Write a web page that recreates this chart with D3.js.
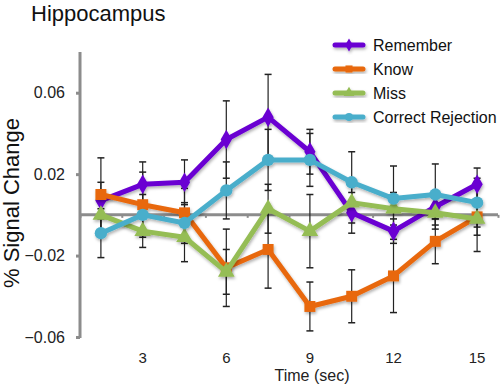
<!DOCTYPE html>
<html>
<head>
<meta charset="utf-8">
<script src="https://cdn.jsdelivr.net/npm/d3@7"></script>
<style>
  body { margin: 0; background: #fff; }
  svg { font-family: "Liberation Sans", Arial, sans-serif; }
</style>
</head>
<body>
<svg width="500" height="385"></svg>
<script>
// **** data ****
var times = [1.5, 3, 4.5, 6, 7.5, 9, 10.5, 12, 13.5, 15];
var xTicks = [3, 6, 9, 12, 15];
var yTicks = [-0.06, -0.02, 0.02, 0.06];

var remember = [0.007, 0.015, 0.016, 0.037, 0.048, 0.031, 0.001, -0.008, 0.004, 0.015];
var know = [0.010, 0.005, 0.001, -0.026, -0.017, -0.045, -0.040, -0.030, -0.013, -0.001];
var miss = [0.000, -0.008, -0.011, -0.028, 0.003, -0.008, 0.006, 0.003, 0.001, -0.002];
var correctRejection = [-0.009, 0.000, -0.004, 0.012, 0.027, 0.027, 0.016, 0.008, 0.010, 0.006];

var rememberErr = [0.009, 0.011, 0.011, 0.019, 0.021, 0.011, 0.010, 0.006, 0.006, 0.008];
var knowErr = [0.018, 0.016, 0.012, 0.019, 0.019, 0.012, 0.013, 0.018, 0.011, 0.017];
var missErr = [0.010, 0.008, 0.012, 0.011, 0.012, 0.018, 0.010, 0.008, 0.008, 0.008];
var crErr = [0.012, 0.010, 0.010, 0.014, 0.015, 0.013, 0.015, 0.016, 0.015, 0.012];

var seriesNames = ['Remember', 'Know', 'Miss', 'Correct Rejection'];
var seriesColors = ['#6a00d2', '#e8680c', '#95bd55', '#4aaecb'];
var seriesShapes = [d3.symbolDiamond, d3.symbolSquare, d3.symbolTriangle, d3.symbolCircle];

var series = [
    { name: seriesNames[0], values: remember, errs: rememberErr },
    { name: seriesNames[1], values: know, errs: knowErr },
    { name: seriesNames[2], values: miss, errs: missErr },
    { name: seriesNames[3], values: correctRejection, errs: crErr }
];

// **** scales ****
var xScale = d3.scaleLinear()
    .domain([0.75, 15.75])
    .range([80, 498]);
var yScale = d3.scaleLinear()
    .domain([-0.06, 0.08])
    .range([337, 52]);

var svg = d3.select('svg');

var defs = svg.append('defs');
var shadow = defs.append('filter').attr('id', 'shadow')
    .attr('x', '-20%').attr('y', '-20%').attr('width', '140%').attr('height', '140%');
shadow.append('feDropShadow')
    .attr('dx', 1).attr('dy', 2).attr('stdDeviation', 1.5)
    .attr('flood-color', '#000').attr('flood-opacity', 0.3);

// title
svg.append('text')
    .attr('x', 31).attr('y', 21)
    .style('font-size', '22px')
    .attr('fill', '#111')
    .text('Hippocampus');

// y axis
var yAxis = svg.append('g')
    .attr('transform', 'translate(80,0)')
    .call(d3.axisLeft(yScale).tickValues(yTicks).tickSize(4)
        .tickFormat(function(d) { return d3.format('.2f')(d); }));
yAxis.select('.domain').remove();
yAxis.append('line')
    .attr('x1', 0).attr('x2', 0)
    .attr('y1', yScale(0.08)).attr('y2', yScale(-0.06) + 1)
    .attr('stroke', '#8c8c8c').attr('stroke-width', 3);
yAxis.selectAll('.tick line').attr('stroke', '#8c8c8c').attr('stroke-width', 3);
yAxis.selectAll('.tick text')
    .attr('x', -15)
    .style('font-size', '16px')
    .attr('fill', '#222');

svg.append('text')
    .attr('transform', 'translate(19,203) rotate(-90)')
    .attr('text-anchor', 'middle')
    .style('font-size', '22px')
    .attr('fill', '#111')
    .text('% Signal Change');

// x axis along zero
var boundaries = times.map(function(t) { return t - 0.75; }).concat([15.75]);
var xAxis = svg.append('g')
    .attr('transform', 'translate(0,' + yScale(0) + ')')
    .call(d3.axisBottom(xScale).tickValues(boundaries).tickSize(3).tickFormat(''));
xAxis.select('.domain').remove();
xAxis.append('line')
    .attr('x1', xScale(0.75)).attr('x2', xScale(15.75))
    .attr('stroke', '#8c8c8c').attr('stroke-width', 3);
xAxis.selectAll('.tick line').attr('stroke', '#8c8c8c').attr('stroke-width', 2);

svg.append('g')
    .selectAll('text')
    .data(xTicks)
    .enter()
    .append('text')
    .attr('x', function(d) { return xScale(d); })
    .attr('y', 363)
    .attr('text-anchor', 'middle')
    .style('font-size', '15px')
    .attr('fill', '#222')
    .text(function(d) { return d; });

svg.append('text')
    .attr('x', 312).attr('y', 381)
    .attr('text-anchor', 'middle')
    .style('font-size', '16px')
    .attr('fill', '#222')
    .text('Time (sec)');

// error bars
var bars = svg.append('g');
series.forEach(function(s) {
    times.forEach(function(t, i) {
        var x = xScale(t);
        var y1 = yScale(s.values[i] + s.errs[i]);
        var y2 = yScale(s.values[i] - s.errs[i]);
        bars.append('line')
            .attr('x1', x).attr('x2', x).attr('y1', y1).attr('y2', y2)
            .attr('stroke', '#222').attr('stroke-width', 1.2);
        [y1, y2].forEach(function(yy) {
            bars.append('line')
                .attr('x1', x - 3.5).attr('x2', x + 3.5).attr('y1', yy).attr('y2', yy)
                .attr('stroke', '#222').attr('stroke-width', 1.5);
        });
    });
});

// lines and markers
var line = d3.line()
    .x(function(d) { return xScale(d.t); })
    .y(function(d) { return yScale(d.v); });

series.forEach(function(s, k) {
    var pts = times.map(function(t, i) { return { t: t, v: s.values[i] }; });
    var g = svg.append('g').attr('filter', 'url(#shadow)');
    g.append('path')
        .datum(pts)
        .attr('d', line)
        .attr('fill', 'none')
        .attr('stroke', seriesColors[k])
        .attr('stroke-width', 5)
        .attr('stroke-linejoin', 'round');
    g.selectAll('path.mark')
        .data(pts)
        .enter()
        .append('path')
        .attr('class', 'mark')
        .attr('transform', function(d) { return 'translate(' + xScale(d.t) + ',' + yScale(d.v) + ')'; })
        .attr('d', d3.symbol().type(seriesShapes[k]).size(k == 0 ? 110 : 120))
        .attr('fill', seriesColors[k]);
});

// legend
var legend = svg.append('g');
seriesNames.forEach(function(name, k) {
    var yy = 45 + k * 24;
    var lg = legend.append('g').attr('filter', 'url(#shadow)');
    lg.append('line')
        .attr('x1', 335).attr('x2', 363).attr('y1', yy).attr('y2', yy)
        .attr('stroke', seriesColors[k]).attr('stroke-width', 5)
        .attr('stroke-linecap', 'round');
    lg.append('path')
        .attr('transform', 'translate(349,' + yy + ')')
        .attr('d', d3.symbol().type(seriesShapes[k]).size(50))
        .attr('fill', seriesColors[k]);
    legend.append('text')
        .attr('x', 373).attr('y', yy + 6)
        .style('font-size', '16px')
        .attr('fill', '#111')
        .text(name);
});
</script>
</body>
</html>
